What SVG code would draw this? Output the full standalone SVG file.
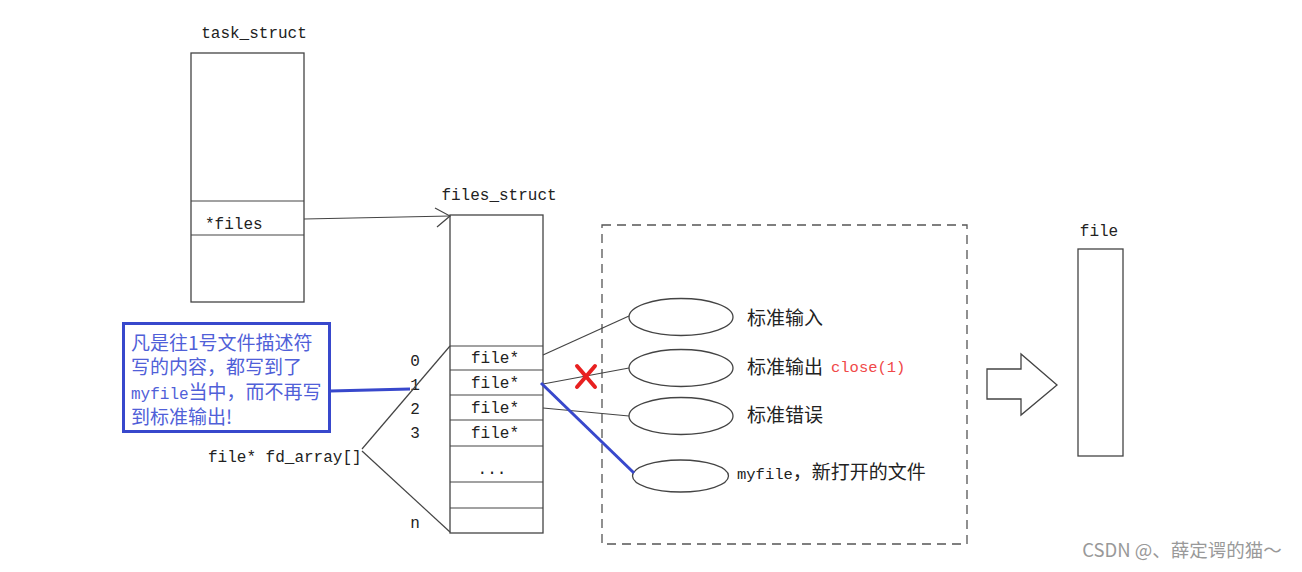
<svg xmlns="http://www.w3.org/2000/svg" width="1302" height="572" viewBox="0 0 1302 572">
<style>
.box{fill:#fff;stroke:#444;stroke-width:1.3}
.ln{stroke:#444;stroke-width:1.2;fill:none}
.mono{font-family:"Liberation Mono","DejaVu Sans Mono",monospace;font-size:16px;fill:#222}
.cjk{font-family:"Noto Sans CJK SC","Noto Sans",sans-serif;font-size:19px;fill:#222}
.blue{stroke:#3848cc;stroke-width:3;fill:none}
</style>
<rect width="1302" height="572" fill="#fff"/>

<g id="task_struct">
<text class="mono" x="254" y="38" text-anchor="middle">task_struct</text>
<rect class="box" x="191" y="53" width="113" height="249"/>
<line class="ln" x1="191" y1="201" x2="304" y2="201"/>
<line class="ln" x1="191" y1="235" x2="304" y2="235"/>
<text class="mono" x="205" y="229">*files</text>
</g>

<g id="files_struct">
<text class="mono" x="499" y="200" text-anchor="middle">files_struct</text>
<rect class="box" x="450" y="215" width="93" height="318"/>
<line class="ln" x1="450" y1="346" x2="543" y2="346"/>
<line class="ln" x1="450" y1="370" x2="543" y2="370"/>
<line class="ln" x1="450" y1="395" x2="543" y2="395"/>
<line class="ln" x1="450" y1="420" x2="543" y2="420"/>
<line class="ln" x1="450" y1="446" x2="543" y2="446"/>
<line class="ln" x1="450" y1="482" x2="543" y2="482"/>
<line class="ln" x1="450" y1="508" x2="543" y2="508"/>
<text class="mono" x="495" y="363" text-anchor="middle">file*</text>
<text class="mono" x="495" y="388" text-anchor="middle">file*</text>
<text class="mono" x="495" y="413" text-anchor="middle">file*</text>
<text class="mono" x="495" y="438" text-anchor="middle">file*</text>
<text class="mono" x="492" y="474" text-anchor="middle">...</text>
</g>

<g id="indices">
<text class="mono" x="415" y="366" text-anchor="middle">0</text>
<text class="mono" x="415" y="390" text-anchor="middle">1</text>
<text class="mono" x="415" y="414" text-anchor="middle">2</text>
<text class="mono" x="415" y="438" text-anchor="middle">3</text>
<text class="mono" x="415" y="528" text-anchor="middle">n</text>
<text class="mono" x="208" y="462">file* fd_array[]</text>
</g>

<g id="callout">
<rect x="123.5" y="323.5" width="206" height="108" fill="#fff" stroke="#3848cc" stroke-width="3"/>
<text font-family="Noto Sans CJK SC, Noto Sans, sans-serif" font-size="19" fill="#5060d8"><tspan x="131" y="350">凡是往1号文件描述符</tspan><tspan x="131" y="374">写的内容，都写到了</tspan><tspan x="131" y="399"><tspan font-family="Liberation Mono, monospace" font-size="16">myfile</tspan>当中，而不再写</tspan><tspan x="131" y="424">到标准输出!</tspan></text>
</g>

<g id="kernel_files">
<rect x="602" y="225" width="365" height="319" fill="none" stroke="#555" stroke-width="1.3" stroke-dasharray="9,6"/>
<ellipse class="box" cx="681" cy="317" rx="52" ry="18.5"/>
<ellipse class="box" cx="681" cy="368" rx="52" ry="18.5"/>
<ellipse class="box" cx="681" cy="416" rx="52" ry="18.5"/>
<ellipse class="box" cx="680.5" cy="476" rx="48" ry="16"/>
<text class="cjk" x="747" y="325">标准输入</text>
<text class="cjk" x="747" y="374">标准输出</text>
<text class="mono" x="831" y="372" style="fill:#f04848;font-size:15.5px">close(1)</text>
<text class="cjk" x="747" y="422">标准错误</text>
<text class="cjk" x="737" y="479"><tspan class="mono" style="font-size:15.5px">myfile</tspan>，新打开的文件</text>
</g>

<g id="file">
<text class="mono" x="1099" y="236" text-anchor="middle">file</text>
<rect class="box" x="1078" y="249" width="45" height="207"/>
</g>

<g id="big_arrow">
<polygon points="987,369 1021,369 1021,354 1057,385 1021,415 1021,399 987,399" fill="#fff" stroke="#444" stroke-width="1.3"/>
</g>

<g id="connectors">
<line class="ln" x1="304" y1="219" x2="450" y2="216"/>
<polyline class="ln" points="435,208 450,216 437,227"/>
<line class="ln" x1="362" y1="449" x2="450" y2="346"/>
<line class="ln" x1="362" y1="451" x2="450" y2="532"/>
<line class="ln" x1="543" y1="355" x2="629" y2="316"/>
<line class="ln" x1="543" y1="384" x2="629" y2="368"/>
<line class="ln" x1="543" y1="408" x2="629" y2="416"/>
<line class="blue" x1="541" y1="383" x2="634" y2="473"/>
<line class="blue" x1="330" y1="391" x2="410" y2="389"/>
<g stroke="#e82020" stroke-width="4" stroke-linecap="round">
<line x1="577" y1="366" x2="595" y2="387"/>
<line x1="595" y1="366" x2="577" y2="387"/>
</g>
</g>

<text x="1182" y="557" text-anchor="middle" font-family="Noto Sans CJK SC, Noto Sans, sans-serif" font-size="18.5" fill="#999">CSDN @、薛定谔的猫～</text>
</svg>
